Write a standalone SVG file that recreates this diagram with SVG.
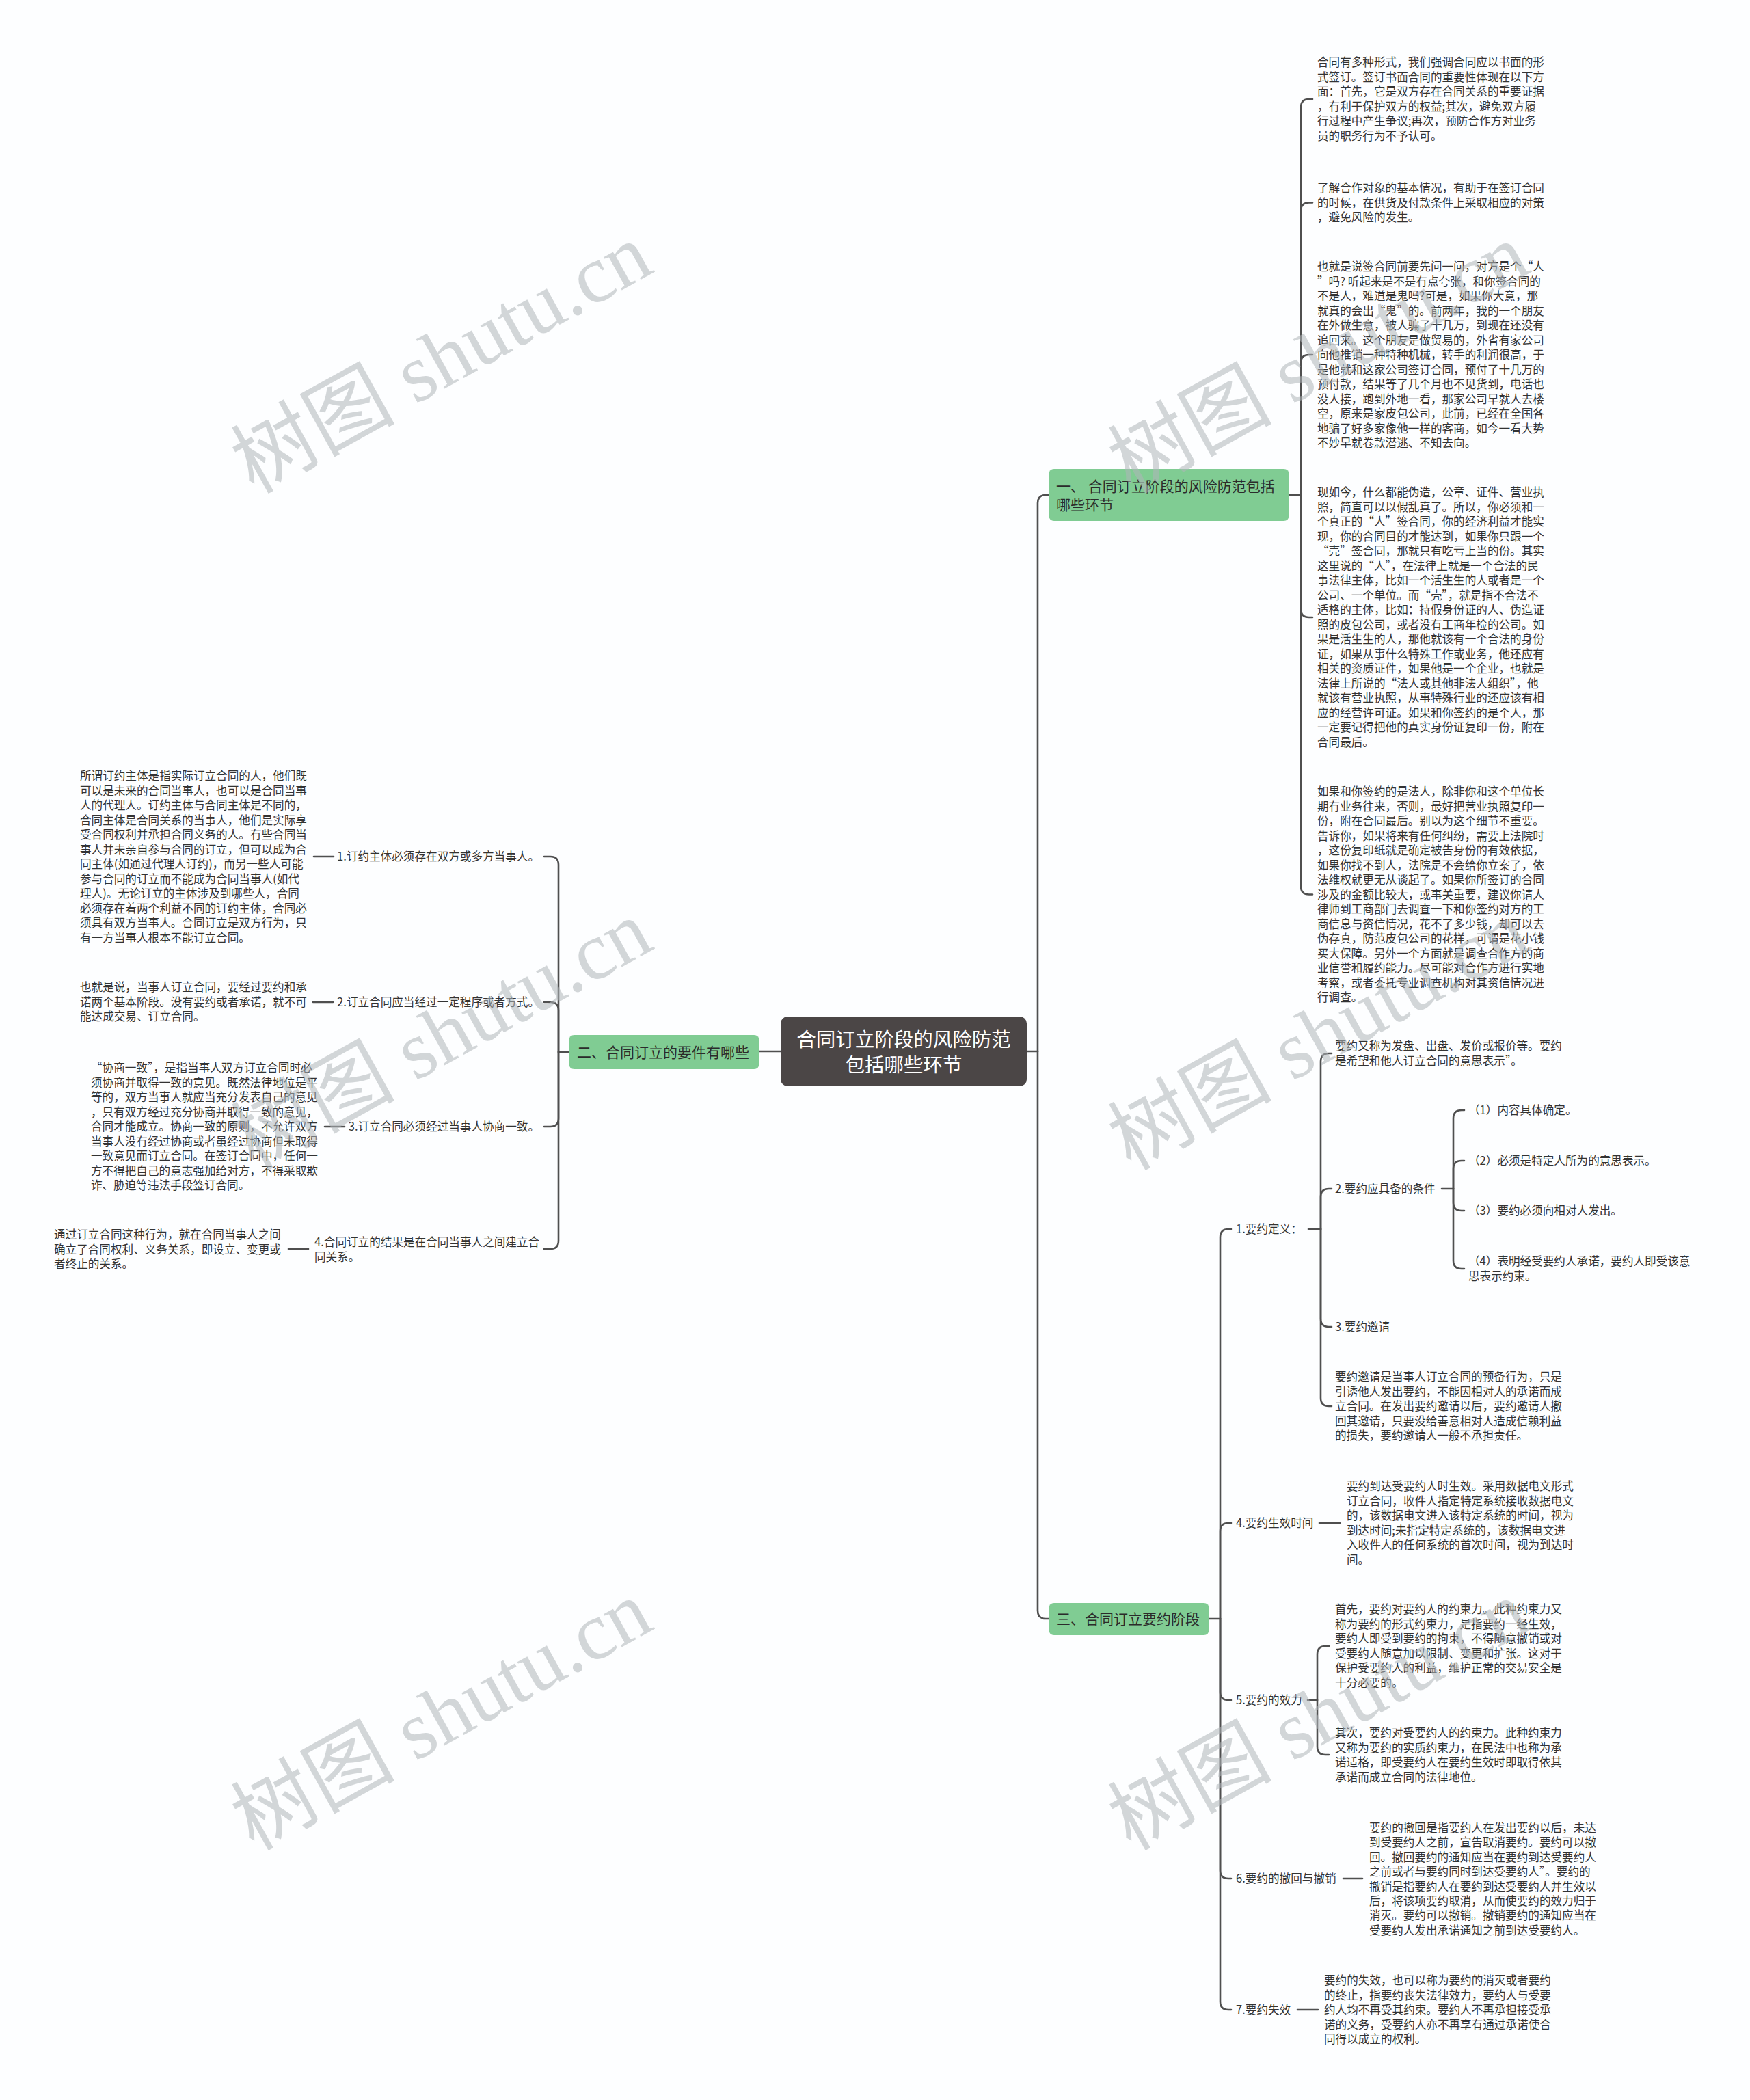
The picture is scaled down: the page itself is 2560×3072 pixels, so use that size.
<svg xmlns="http://www.w3.org/2000/svg" width="2560" height="3072" viewBox="0 0 2560 3072">
<style>
.t{font-family:"Noto Sans CJK SC","Noto Sans",sans-serif;font-size:16.6px;fill:#333}
.b{font-family:"Noto Sans CJK SC","Noto Sans",sans-serif;font-size:21px;fill:#2b2b2b}
.c{font-family:"Noto Sans CJK SC","Noto Sans",sans-serif;font-size:28.5px;fill:#fff}
.ln{fill:none;stroke:#4f4f4f;stroke-width:2.6;stroke-linecap:round;stroke-linejoin:round}
.g{fill:#80cc93}
.wm{font-family:"Liberation Serif","Noto Sans CJK SC",serif;font-size:120px;fill:#b0b6ba;opacity:0.55}
</style>
<rect width="2560" height="3072" fill="#fdfeff"/>
<g id="connectors">
<path class="ln" d="M1502,1538 H1518"/>
<path class="ln" d="M1518,1538 V736 Q1518,724 1530,724 H1534"/>
<path class="ln" d="M1518,1538 V2356 Q1518,2368 1530,2368 H1534"/>
<path class="ln" d="M1142,1538 H1111"/>
<path class="ln" d="M832,1539 H817"/>
<path class="ln" d="M817,1539 V1265 Q817,1253 805,1253 H796"/>
<path class="ln" d="M817,1539 V1478 Q817,1466 805,1466 H796"/>
<path class="ln" d="M817,1539 V1636 Q817,1648 805,1648 H796"/>
<path class="ln" d="M817,1539 V1815 Q817,1827 805,1827 H796"/>
<path class="ln" d="M459,1253 H488"/>
<path class="ln" d="M458,1466 H487"/>
<path class="ln" d="M475,1648 H504"/>
<path class="ln" d="M422,1827 H451"/>
<path class="ln" d="M1886,724 H1903"/>
<path class="ln" d="M1903,724 V157 Q1903,145 1915,145 H1920"/>
<path class="ln" d="M1903,724 V308.5 Q1903,296.5 1915,296.5 H1920"/>
<path class="ln" d="M1903,724 V531 Q1903,519 1915,519 H1920"/>
<path class="ln" d="M1903,724 V891 Q1903,903 1915,903 H1920"/>
<path class="ln" d="M1903,724 V1296.5 Q1903,1308.5 1915,1308.5 H1920"/>
<path class="ln" d="M1769,2368 H1785"/>
<path class="ln" d="M1785,2368 V1810 Q1785,1798 1797,1798 H1801"/>
<path class="ln" d="M1785,2368 V2240 Q1785,2228 1797,2228 H1801"/>
<path class="ln" d="M1785,2368 V2475 Q1785,2487 1797,2487 H1801"/>
<path class="ln" d="M1785,2368 V2736 Q1785,2748 1797,2748 H1801"/>
<path class="ln" d="M1785,2368 V2928 Q1785,2940 1797,2940 H1801"/>
<path class="ln" d="M1914,1798 H1932"/>
<path class="ln" d="M1932,1798 V1553 Q1932,1541 1944,1541 H1948"/>
<path class="ln" d="M1932,1798 V1751 Q1932,1739 1944,1739 H1948"/>
<path class="ln" d="M1932,1798 V1929 Q1932,1941 1944,1941 H1948"/>
<path class="ln" d="M1932,1798 V2045 Q1932,2057 1944,2057 H1948"/>
<path class="ln" d="M2109,1739 H2126"/>
<path class="ln" d="M2126,1739 V1636 Q2126,1624 2138,1624 H2142"/>
<path class="ln" d="M2126,1739 V1710 Q2126,1698 2138,1698 H2142"/>
<path class="ln" d="M2126,1739 V1759 Q2126,1771 2138,1771 H2142"/>
<path class="ln" d="M2126,1739 V1844 Q2126,1856 2138,1856 H2142"/>
<path class="ln" d="M1930,2228 H1960"/>
<path class="ln" d="M1913,2487 H1927"/>
<path class="ln" d="M1927,2487 V2420 Q1927,2408 1939,2408 H1944"/>
<path class="ln" d="M1927,2487 V2555 Q1927,2567 1939,2567 H1944"/>
<path class="ln" d="M1965,2748 H1993"/>
<path class="ln" d="M1898,2940 H1928"/>
</g>
<g id="center">
<rect x="1142" y="1487" width="360" height="102" rx="10" fill="#4b4646"/>
<text class="c" text-anchor="middle"><tspan x="1322" y="1531">合同订立阶段的风险防范</tspan><tspan x="1322" y="1568">包括哪些环节</tspan></text>
</g>
<g id="branch1">
<rect class="g" x="1534" y="686" width="352" height="76" rx="8"/>
<text class="b"><tspan x="1545" y="719">一、 合同订立阶段的风险防范包括</tspan><tspan x="1545" y="746">哪些环节</tspan></text>
</g>
<g id="branch2">
<rect class="g" x="832" y="1514" width="279" height="50" rx="8"/>
<text class="b" x="844" y="1547">二、合同订立的要件有哪些</text>
</g>
<g id="branch3">
<rect class="g" x="1534" y="2345" width="235" height="47" rx="8"/>
<text class="b" x="1545" y="2376">三、合同订立要约阶段</text>
</g>
<g id="p1-1"><text class="t"><tspan x="1927" y="97">合同有多种形式，我们强调合同应以书面的形</tspan><tspan x="1927" dy="21.6">式签订。签订书面合同的重要性体现在以下方</tspan><tspan x="1927" dy="21.6">面：首先，它是双方存在合同关系的重要证据</tspan><tspan x="1927" dy="21.6">，有利于保护双方的权益;其次，避免双方履</tspan><tspan x="1927" dy="21.6">行过程中产生争议;再次，预防合作方对业务</tspan><tspan x="1927" dy="21.6">员的职务行为不予认可。</tspan></text></g>
<g id="p1-2"><text class="t"><tspan x="1927" y="281">了解合作对象的基本情况，有助于在签订合同</tspan><tspan x="1927" dy="21.5">的时候，在供货及付款条件上采取相应的对策</tspan><tspan x="1927" dy="21.5">，避免风险的发生。</tspan></text></g>
<g id="p1-3"><text class="t"><tspan x="1927" y="396">也就是说签合同前要先问一问，对方是个“人</tspan><tspan x="1927" dy="21.5">”吗? 听起来是不是有点夸张，和你签合同的</tspan><tspan x="1927" dy="21.5">不是人，难道是鬼吗?可是，如果你大意，那</tspan><tspan x="1927" dy="21.5">就真的会出“鬼”的。前两年，我的一个朋友</tspan><tspan x="1927" dy="21.5">在外做生意，被人骗了十几万，到现在还没有</tspan><tspan x="1927" dy="21.5">追回来。这个朋友是做贸易的，外省有家公司</tspan><tspan x="1927" dy="21.5">向他推销一种特种机械，转手的利润很高，于</tspan><tspan x="1927" dy="21.5">是他就和这家公司签订合同，预付了十几万的</tspan><tspan x="1927" dy="21.5">预付款，结果等了几个月也不见货到，电话也</tspan><tspan x="1927" dy="21.5">没人接，跑到外地一看，那家公司早就人去楼</tspan><tspan x="1927" dy="21.5">空，原来是家皮包公司，此前，已经在全国各</tspan><tspan x="1927" dy="21.5">地骗了好多家像他一样的客商，如今一看大势</tspan><tspan x="1927" dy="21.5">不妙早就卷款潜逃、不知去向。</tspan></text></g>
<g id="p1-4"><text class="t"><tspan x="1927" y="726">现如今，什么都能伪造，公章、证件、营业执</tspan><tspan x="1927" dy="21.5">照，简直可以以假乱真了。所以，你必须和一</tspan><tspan x="1927" dy="21.5">个真正的“人”签合同，你的经济利益才能实</tspan><tspan x="1927" dy="21.5">现，你的合同目的才能达到，如果你只跟一个</tspan><tspan x="1927" dy="21.5">“壳”签合同，那就只有吃亏上当的份。其实</tspan><tspan x="1927" dy="21.5">这里说的“人”，在法律上就是一个合法的民</tspan><tspan x="1927" dy="21.5">事法律主体，比如一个活生生的人或者是一个</tspan><tspan x="1927" dy="21.5">公司、一个单位。而“壳”，就是指不合法不</tspan><tspan x="1927" dy="21.5">适格的主体，比如：持假身份证的人、伪造证</tspan><tspan x="1927" dy="21.5">照的皮包公司，或者没有工商年检的公司。如</tspan><tspan x="1927" dy="21.5">果是活生生的人，那他就该有一个合法的身份</tspan><tspan x="1927" dy="21.5">证，如果从事什么特殊工作或业务，他还应有</tspan><tspan x="1927" dy="21.5">相关的资质证件，如果他是一个企业，也就是</tspan><tspan x="1927" dy="21.5">法律上所说的“法人或其他非法人组织”，他</tspan><tspan x="1927" dy="21.5">就该有营业执照，从事特殊行业的还应该有相</tspan><tspan x="1927" dy="21.5">应的经营许可证。如果和你签约的是个人，那</tspan><tspan x="1927" dy="21.5">一定要记得把他的真实身份证复印一份，附在</tspan><tspan x="1927" dy="21.5">合同最后。</tspan></text></g>
<g id="p1-5"><text class="t"><tspan x="1927" y="1164">如果和你签约的是法人，除非你和这个单位长</tspan><tspan x="1927" dy="21.5">期有业务往来，否则，最好把营业执照复印一</tspan><tspan x="1927" dy="21.5">份，附在合同最后。别以为这个细节不重要。</tspan><tspan x="1927" dy="21.5">告诉你，如果将来有任何纠纷，需要上法院时</tspan><tspan x="1927" dy="21.5">，这份复印纸就是确定被告身份的有效依据，</tspan><tspan x="1927" dy="21.5">如果你找不到人，法院是不会给你立案了，依</tspan><tspan x="1927" dy="21.5">法维权就更无从谈起了。如果你所签订的合同</tspan><tspan x="1927" dy="21.5">涉及的金额比较大，或事关重要，建议你请人</tspan><tspan x="1927" dy="21.5">律师到工商部门去调查一下和你签约对方的工</tspan><tspan x="1927" dy="21.5">商信息与资信情况，花不了多少钱，却可以去</tspan><tspan x="1927" dy="21.5">伪存真，防范皮包公司的花样，可谓是花小钱</tspan><tspan x="1927" dy="21.5">买大保障。另外一个方面就是调查合作方的商</tspan><tspan x="1927" dy="21.5">业信誉和履约能力。尽可能对合作方进行实地</tspan><tspan x="1927" dy="21.5">考察，或者委托专业调查机构对其资信情况进</tspan><tspan x="1927" dy="21.5">行调查。</tspan></text></g>
<g id="item2-1"><text class="t" x="789" y="1259" text-anchor="end">1.订约主体必须存在双方或多方当事人。</text></g>
<g id="item2-2"><text class="t" x="789" y="1472" text-anchor="end">2.订立合同应当经过一定程序或者方式。</text></g>
<g id="item2-3"><text class="t" x="789" y="1654" text-anchor="end">3.订立合同必须经过当事人协商一致。</text></g>
<g id="item2-4"><text class="t"><tspan x="460" y="1823">4.合同订立的结果是在合同当事人之间建立合</tspan><tspan x="460" dy="21.5">同关系。</tspan></text></g>
<g id="l2-1"><text class="t"><tspan x="117" y="1141">所谓订约主体是指实际订立合同的人，他们既</tspan><tspan x="117" dy="21.5">可以是未来的合同当事人，也可以是合同当事</tspan><tspan x="117" dy="21.5">人的代理人。订约主体与合同主体是不同的，</tspan><tspan x="117" dy="21.5">合同主体是合同关系的当事人，他们是实际享</tspan><tspan x="117" dy="21.5">受合同权利并承担合同义务的人。有些合同当</tspan><tspan x="117" dy="21.5">事人并未亲自参与合同的订立，但可以成为合</tspan><tspan x="117" dy="21.5">同主体(如通过代理人订约)，而另一些人可能</tspan><tspan x="117" dy="21.5">参与合同的订立而不能成为合同当事人(如代</tspan><tspan x="117" dy="21.5">理人)。无论订立的主体涉及到哪些人，合同</tspan><tspan x="117" dy="21.5">必须存在着两个利益不同的订约主体，合同必</tspan><tspan x="117" dy="21.5">须具有双方当事人。合同订立是双方行为，只</tspan><tspan x="117" dy="21.5">有一方当事人根本不能订立合同。</tspan></text></g>
<g id="l2-2"><text class="t"><tspan x="117" y="1450">也就是说，当事人订立合同，要经过要约和承</tspan><tspan x="117" dy="21.5">诺两个基本阶段。没有要约或者承诺，就不可</tspan><tspan x="117" dy="21.5">能达成交易、订立合同。</tspan></text></g>
<g id="l2-3"><text class="t"><tspan x="133" y="1568">“协商一致”，是指当事人双方订立合同时必</tspan><tspan x="133" dy="21.5">须协商并取得一致的意见。既然法律地位是平</tspan><tspan x="133" dy="21.5">等的，双方当事人就应当充分发表自己的意见</tspan><tspan x="133" dy="21.5">，只有双方经过充分协商并取得一致的意见，</tspan><tspan x="133" dy="21.5">合同才能成立。协商一致的原则，不允许双方</tspan><tspan x="133" dy="21.5">当事人没有经过协商或者虽经过协商但未取得</tspan><tspan x="133" dy="21.5">一致意见而订立合同。在签订合同中，任何一</tspan><tspan x="133" dy="21.5">方不得把自己的意志强加给对方，不得采取欺</tspan><tspan x="133" dy="21.5">诈、胁迫等违法手段签订合同。</tspan></text></g>
<g id="l2-4"><text class="t"><tspan x="79" y="1812">通过订立合同这种行为，就在合同当事人之间</tspan><tspan x="79" dy="21.5">确立了合同权利、义务关系，即设立、变更或</tspan><tspan x="79" dy="21.5">者终止的关系。</tspan></text></g>
<g id="s3-1"><text class="t" x="1808" y="1804">1.要约定义：</text></g>
<g id="s3-1a"><text class="t"><tspan x="1953" y="1536">要约又称为发盘、出盘、发价或报价等。要约</tspan><tspan x="1953" dy="21.5">是希望和他人订立合同的意思表示”。</tspan></text></g>
<g id="s3-1b"><text class="t" x="1953" y="1745">2.要约应具备的条件</text></g>
<g id="s3-1b1"><text class="t" x="2148" y="1630">（1）内容具体确定。</text></g>
<g id="s3-1b2"><text class="t" x="2148" y="1704">（2）必须是特定人所为的意思表示。</text></g>
<g id="s3-1b3"><text class="t" x="2148" y="1777">（3）要约必须向相对人发出。</text></g>
<g id="s3-1b4"><text class="t"><tspan x="2148" y="1851">（4）表明经受要约人承诺，要约人即受该意</tspan><tspan x="2148" dy="21.5">思表示约束。</tspan></text></g>
<g id="s3-1c"><text class="t" x="1953" y="1947">3.要约邀请</text></g>
<g id="s3-1d"><text class="t"><tspan x="1953" y="2020">要约邀请是当事人订立合同的预备行为，只是</tspan><tspan x="1953" dy="21.5">引诱他人发出要约，不能因相对人的承诺而成</tspan><tspan x="1953" dy="21.5">立合同。在发出要约邀请以后，要约邀请人撤</tspan><tspan x="1953" dy="21.5">回其邀请，只要没给善意相对人造成信赖利益</tspan><tspan x="1953" dy="21.5">的损失，要约邀请人一般不承担责任。</tspan></text></g>
<g id="s3-4"><text class="t" x="1808" y="2234">4.要约生效时间</text></g>
<g id="s3-4a"><text class="t"><tspan x="1970" y="2180">要约到达受要约人时生效。采用数据电文形式</tspan><tspan x="1970" dy="21.5">订立合同，收件人指定特定系统接收数据电文</tspan><tspan x="1970" dy="21.5">的，该数据电文进入该特定系统的时间，视为</tspan><tspan x="1970" dy="21.5">到达时间;未指定特定系统的，该数据电文进</tspan><tspan x="1970" dy="21.5">入收件人的任何系统的首次时间，视为到达时</tspan><tspan x="1970" dy="21.5">间。</tspan></text></g>
<g id="s3-5"><text class="t" x="1808" y="2493">5.要约的效力</text></g>
<g id="s3-5a"><text class="t"><tspan x="1953" y="2360">首先，要约对要约人的约束力。此种约束力又</tspan><tspan x="1953" dy="21.5">称为要约的形式约束力，是指要约一经生效，</tspan><tspan x="1953" dy="21.5">要约人即受到要约的拘束，不得随意撤销或对</tspan><tspan x="1953" dy="21.5">受要约人随意加以限制、变更和扩张。这对于</tspan><tspan x="1953" dy="21.5">保护受要约人的利益，维护正常的交易安全是</tspan><tspan x="1953" dy="21.5">十分必要的。</tspan></text></g>
<g id="s3-5b"><text class="t"><tspan x="1953" y="2541">其次，要约对受要约人的约束力。此种约束力</tspan><tspan x="1953" dy="21.5">又称为要约的实质约束力，在民法中也称为承</tspan><tspan x="1953" dy="21.5">诺适格，即受要约人在要约生效时即取得依其</tspan><tspan x="1953" dy="21.5">承诺而成立合同的法律地位。</tspan></text></g>
<g id="s3-6"><text class="t" x="1808" y="2754">6.要约的撤回与撤销</text></g>
<g id="s3-6a"><text class="t"><tspan x="2003" y="2680">要约的撤回是指要约人在发出要约以后，未达</tspan><tspan x="2003" dy="21.4">到受要约人之前，宣告取消要约。要约可以撤</tspan><tspan x="2003" dy="21.4">回。撤回要约的通知应当在要约到达受要约人</tspan><tspan x="2003" dy="21.4">之前或者与要约同时到达受要约人”。要约的</tspan><tspan x="2003" dy="21.4">撤销是指要约人在要约到达受要约人并生效以</tspan><tspan x="2003" dy="21.4">后，将该项要约取消，从而使要约的效力归于</tspan><tspan x="2003" dy="21.4">消灭。要约可以撤销。撤销要约的通知应当在</tspan><tspan x="2003" dy="21.4">受要约人发出承诺通知之前到达受要约人。</tspan></text></g>
<g id="s3-7"><text class="t" x="1808" y="2946">7.要约失效</text></g>
<g id="s3-7a"><text class="t"><tspan x="1937" y="2903">要约的失效，也可以称为要约的消灭或者要约</tspan><tspan x="1937" dy="21.5">的终止，指要约丧失法律效力，要约人与受要</tspan><tspan x="1937" dy="21.5">约人均不再受其约束。要约人不再承担接受承</tspan><tspan x="1937" dy="21.5">诺的义务，受要约人亦不再享有通过承诺使合</tspan><tspan x="1937" dy="21.5">同得以成立的权利。</tspan></text></g>
<g id="watermarks">
<text class="wm" text-anchor="middle" transform="translate(646,525) rotate(-29)" y="40">树图 shutu.cn</text>
<text class="wm" text-anchor="middle" transform="translate(646,1515) rotate(-29)" y="40">树图 shutu.cn</text>
<text class="wm" text-anchor="middle" transform="translate(646,2510) rotate(-29)" y="40">树图 shutu.cn</text>
<text class="wm" text-anchor="middle" transform="translate(1929,525) rotate(-29)" y="40">树图 shutu.cn</text>
<text class="wm" text-anchor="middle" transform="translate(1929,1515) rotate(-29)" y="40">树图 shutu.cn</text>
<text class="wm" text-anchor="middle" transform="translate(1929,2510) rotate(-29)" y="40">树图 shutu.cn</text>
</g>
</svg>
